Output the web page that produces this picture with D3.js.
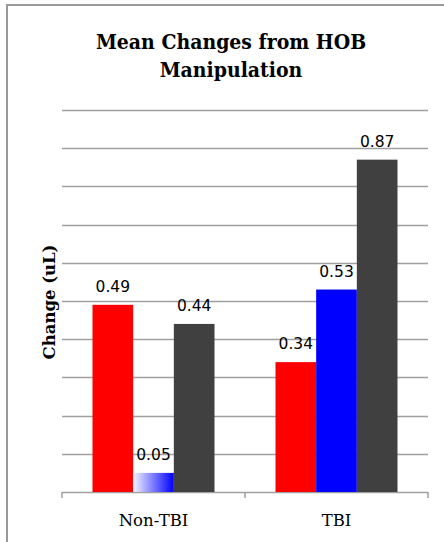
<!DOCTYPE html>
<html>
<head>
<meta charset="utf-8">
<script src="https://cdn.jsdelivr.net/npm/d3@7"></script>
<style>
  html, body { margin: 0; padding: 0; background: #fff; }
  svg { display: block; }
</style>
</head>
<body>
<svg id="chart" width="444" height="542"></svg>
<script>
// Chart data
const categories = ["Non-TBI", "TBI"];
const seriesKeys = ["series1", "series2", "series3"];
const series1 = [0.49, 0.34];
const series2 = [0.05, 0.53];
const series3 = [0.44, 0.87];
const yTicks = [0, 0.1, 0.2, 0.3, 0.4, 0.5, 0.6, 0.7, 0.8, 0.9, 1.0];
const titleLines = ["Mean Changes from HOB", "Manipulation"];
const yTitle = "Change (uL)";

const seriesValues = [series1, series2, series3];
const rows = categories.map((c, i) => ({
  category: c,
  values: seriesKeys.map((k, j) => ({ key: k, value: seriesValues[j][i], cat: i }))
}));

const svg = d3.select("#chart");
const plot = { left: 62, right: 428, top: 110, bottom: 492 };

// Outer chart frame (runs past the right and bottom edges)
svg.append("rect")
  .attr("x", 7).attr("y", 5)
  .attr("width", 500).attr("height", 600)
  .attr("fill", "none")
  .attr("stroke", "#9a9a9a")
  .attr("stroke-width", 2);

// Gradient for the faded bar
const defs = svg.append("defs");
const grad = defs.append("linearGradient")
  .attr("id", "fadeBlue")
  .attr("x1", "0%").attr("x2", "100%").attr("y1", "0%").attr("y2", "0%");
grad.append("stop").attr("offset", "0%").attr("stop-color", "#f4f4ff");
grad.append("stop").attr("offset", "100%").attr("stop-color", "#0000ff");

const x0 = d3.scaleBand().domain(categories).range([plot.left, plot.right]).padding(0);
const x1 = d3.scaleBand().domain(seriesKeys).range([0, x0.bandwidth()])
  .paddingInner(0).paddingOuter(0.75);
const y = d3.scaleLinear().domain([0, 1]).range([plot.bottom, plot.top]);

const fills = {
  series1: () => "#ff0000",
  series2: d => d.cat === 0 ? "url(#fadeBlue)" : "#0000ff",
  series3: () => "#404040"
};

// Horizontal gridlines
svg.append("g")
  .selectAll("line")
  .data(yTicks.filter(t => t > 0))
  .join("line")
  .attr("x1", plot.left).attr("x2", plot.right)
  .attr("y1", d => Math.round(y(d)) + 0.5).attr("y2", d => Math.round(y(d)) + 0.5)
  .attr("stroke", "#a0a0a0")
  .attr("stroke-width", 1.5);

// Category axis along the baseline
const xAxis = d3.axisBottom(x0).tickSize(0).tickFormat("");
const axisG = svg.append("g")
  .attr("transform", `translate(0,${plot.bottom})`)
  .call(xAxis);
axisG.select(".domain").remove();
axisG.append("line")
  .attr("x1", plot.left).attr("x2", plot.right)
  .attr("y1", 0.5).attr("y2", 0.5)
  .attr("stroke", "#a0a0a0").attr("stroke-width", 1.5);
const boundaries = [plot.left, ...categories.map(c => x0(c) + x0.bandwidth())];
axisG.selectAll(".bound")
  .data(boundaries)
  .join("line")
  .attr("class", "bound")
  .attr("x1", d => d).attr("x2", d => d)
  .attr("y1", 0).attr("y2", 6)
  .attr("stroke", "#a0a0a0").attr("stroke-width", 1.5);

// Bars
const groups = svg.append("g")
  .selectAll("g")
  .data(rows)
  .join("g")
  .attr("transform", d => `translate(${x0(d.category)},0)`);

groups.selectAll("rect")
  .data(d => d.values)
  .join("rect")
  .attr("x", d => x1(d.key))
  .attr("y", d => y(d.value))
  .attr("width", x1.bandwidth())
  .attr("height", d => y(0) - y(d.value))
  .attr("fill", d => fills[d.key](d));

// Value labels
groups.selectAll("text")
  .data(d => d.values)
  .join("text")
  .attr("x", d => x1(d.key) + x1.bandwidth() / 2)
  .attr("y", d => y(d.value) - 13)
  .attr("text-anchor", "middle")
  .attr("font-family", "'DejaVu Sans', sans-serif")
  .attr("font-size", 15.5)
  .attr("fill", "#000")
  .text(d => d3.format(".2f")(d.value));

// Category labels
svg.append("g")
  .selectAll("text")
  .data(categories)
  .join("text")
  .attr("x", d => x0(d) + x0.bandwidth() / 2)
  .attr("y", 526)
  .attr("text-anchor", "middle")
  .attr("font-family", "'DejaVu Serif', serif")
  .attr("font-size", 16.5)
  .attr("fill", "#000")
  .text(d => d);

// Title (slightly narrowed so the heavy serif face keeps its size)
svg.append("g")
  .attr("transform", "translate(231,0) scale(0.9,1)")
  .append("text")
  .attr("text-anchor", "middle")
  .attr("font-family", "'DejaVu Serif', serif")
  .attr("font-weight", "bold")
  .attr("font-size", 21)
  .attr("fill", "#000")
  .selectAll("tspan")
  .data(titleLines)
  .join("tspan")
  .attr("x", 0)
  .attr("y", (d, i) => 49 + i * 28)
  .text(d => d);

// Y axis title
svg.append("text")
  .attr("transform", "translate(55,302) rotate(-90)")
  .attr("text-anchor", "middle")
  .attr("font-family", "'DejaVu Serif', serif")
  .attr("font-weight", "bold")
  .attr("font-size", 16.5)
  .attr("fill", "#000")
  .text(yTitle);
</script>
</body>
</html>
